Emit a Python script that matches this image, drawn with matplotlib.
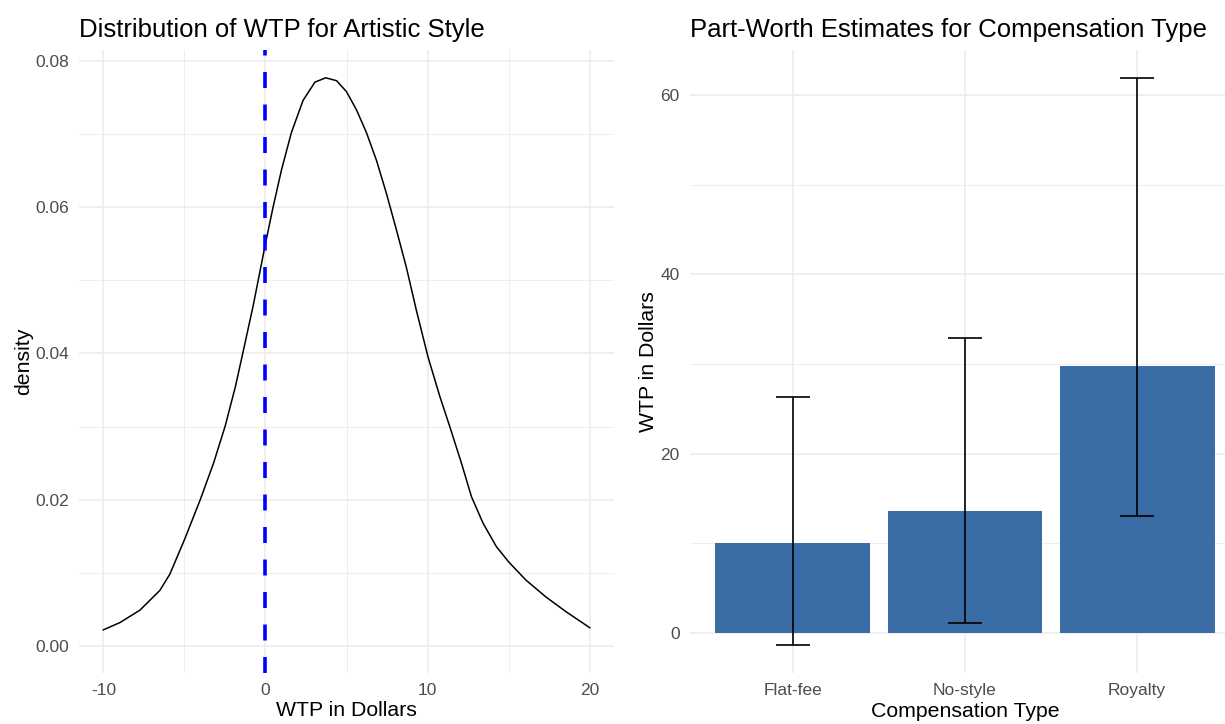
import numpy as np
import matplotlib
matplotlib.use('Agg')
import matplotlib.pyplot as plt

plt.rcParams['font.family'] = ['Liberation Sans', 'DejaVu Sans']
plt.rcParams['lines.scale_dashes'] = False
plt.rcParams['axes.unicode_minus'] = False

# density of WTP for artistic style
wtp_x = [-10, -8.97, -7.74, -6.51, -5.90, -5.0, -4.02, -3.20, -2.48, -1.86, -1.39, -0.76,
         0, 0.47, 0.99, 1.60, 2.32, 3.05, 3.72, 4.39, 5.0, 5.62, 6.23, 6.85, 7.46, 8.08,
         8.69, 9.31, 10.03, 10.76, 11.37, 12.09, 12.71, 13.42, 14.24, 15.0, 16.07, 17.30,
         18.53, 20]
wtp_density = [0.0022, 0.0032, 0.0049, 0.0076, 0.0098, 0.0145, 0.0200, 0.0250, 0.0301, 0.0354,
               0.0401, 0.0465, 0.0550, 0.0600, 0.0651, 0.0702, 0.0746, 0.0771, 0.0777, 0.0773,
               0.0758, 0.0733, 0.0702, 0.0664, 0.0619, 0.0569, 0.0518, 0.0459, 0.0395, 0.0341,
               0.0300, 0.0250, 0.0204, 0.0168, 0.0136, 0.0115, 0.0090, 0.0067, 0.0047, 0.0025]

# part-worth estimates
comp_types = ['Flat-fee', 'No-style', 'Royalty']
comp_wtp = [10.0, 13.6, 29.8]
comp_lo = [-1.3, 1.1, 13.0]
comp_hi = [26.3, 32.9, 61.9]

grid_col = '#EBEBEB'
tick_col = '#4D4D4D'

fig = plt.figure(figsize=(12.25, 7.24), dpi=100)
ax1 = fig.add_axes([79/1225, 1-673/724, 535/1225, 623/724])
ax2 = fig.add_axes([689.5/1225, 1-673/724, 535.5/1225, 623/724])

for ax in (ax1, ax2):
    ax.set_facecolor('white')
    for s in ax.spines.values():
        s.set_visible(False)
    ax.tick_params(length=0, labelsize=12.5, labelcolor=tick_col, pad=7)
    ax.set_axisbelow(True)

# left panel
ax1.plot(wtp_x, wtp_density, color='black', lw=1.1, solid_joinstyle='round')
ax1.axvline(0, color='#0000FF', lw=2.6, dashes=(11.5, 11.9))
ax1.set_xlim(-11.5, 21.5)
ax1.set_ylim(-0.0037, 0.0815)
ax1.set_xticks([-10, 0, 10, 20])
ax1.set_xticks([-5, 5, 15], minor=True)
ax1.set_yticks([0, 0.02, 0.04, 0.06, 0.08])
ax1.set_yticklabels(['0.00', '0.02', '0.04', '0.06', '0.08'])
ax1.set_yticks([0.01, 0.03, 0.05, 0.07], minor=True)
ax1.tick_params(which='minor', length=0)
ax1.grid(which='major', color=grid_col, lw=1.1)
ax1.grid(which='minor', color=grid_col, lw=0.6)
ax1.set_xlabel('WTP in Dollars', fontsize=15.3, labelpad=2)
ax1.set_ylabel('density', fontsize=15.3, labelpad=2)
ax1.set_title('Distribution of WTP for Artistic Style', fontsize=18.5, loc='left', pad=9)

# right panel
pos = np.arange(1, len(comp_types) + 1)
ax2.bar(pos, comp_wtp, width=0.9, color='#3A6DA5')
ax2.vlines(pos, comp_lo, comp_hi, color='black', lw=1.2)
ax2.hlines(comp_lo, pos - 0.1, pos + 0.1, color='black', lw=1.2)
ax2.hlines(comp_hi, pos - 0.1, pos + 0.1, color='black', lw=1.2)
ax2.set_xlim(0.4, 3.51)
ax2.set_ylim(-4.46, 65.0)
ax2.set_xticks(pos)
ax2.set_xticklabels(comp_types)
ax2.set_yticks([0, 20, 40, 60])
ax2.set_yticks([10, 30, 50], minor=True)
ax2.tick_params(which='minor', length=0)
ax2.grid(which='major', color=grid_col, lw=1.1)
ax2.grid(which='minor', axis='y', color=grid_col, lw=0.6)
ax2.set_xlabel('Compensation Type', fontsize=15.3, labelpad=2)
# the panel in the reference runs past the right edge, so centre the label as it does
ax2.xaxis.set_label_coords(0.5145, -0.047)
ax2.set_ylabel('WTP in Dollars', fontsize=15.3, labelpad=2)
ax2.set_title('Part-Worth Estimates for Compensation Type', fontsize=18.5, loc='left', pad=9)

fig.savefig('out.png', dpi=100)
